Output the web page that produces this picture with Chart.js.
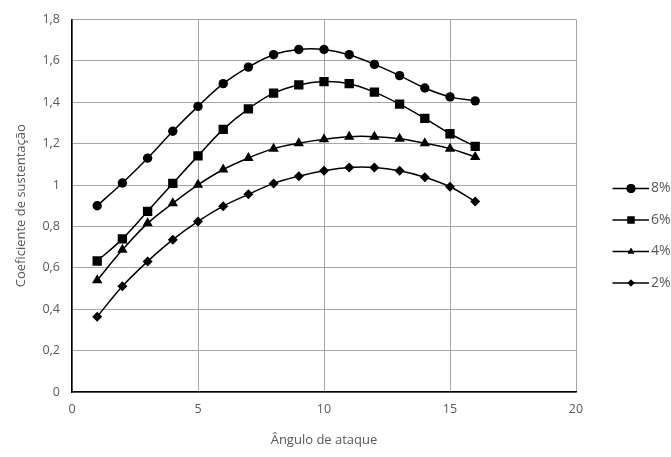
<!DOCTYPE html>
<html>
<head>
<meta charset="utf-8">
<script src="https://cdn.jsdelivr.net/npm/chart.js@4.4.1/dist/chart.umd.min.js"></script>
<style>
  html, body { margin: 0; padding: 0; background: #fff; }
  #wrap { width: 671px; height: 457px; position: relative; }
</style>
</head>
<body>
<div id="wrap"><canvas id="chart" width="671" height="457"></canvas></div>
<script>
// Angle of attack (x values)
var angles = [1, 2, 3, 4, 5, 6, 7, 8, 9, 10, 11, 12, 13, 14, 15, 16];

// Lift coefficient per camber
var cl8 = [0.90, 1.01, 1.13, 1.26, 1.38, 1.49, 1.57, 1.63, 1.655, 1.655, 1.63, 1.583, 1.529, 1.469, 1.426, 1.407];
var cl6 = [0.633, 0.740, 0.873, 1.008, 1.141, 1.269, 1.368, 1.444, 1.484, 1.500, 1.490, 1.449, 1.391, 1.322, 1.248, 1.187];
var cl4 = [0.540, 0.687, 0.815, 0.912, 1.001, 1.075, 1.131, 1.176, 1.202, 1.221, 1.234, 1.234, 1.224, 1.202, 1.176, 1.136];
var cl2 = [0.364, 0.511, 0.631, 0.736, 0.824, 0.898, 0.955, 1.008, 1.043, 1.069, 1.085, 1.085, 1.069, 1.038, 0.992, 0.921];

var seriesLabels = ['8%', '6%', '4%', '2%'];

var grey = '#595959';
var fontFamily = "'Open Sans', 'Noto Sans', sans-serif";

// Turn an array of y values into {x, y} points
function toPoints(values) {
    let pts = [];
    for (let i = 0; i < values.length; i++) {
        pts.push({ x: angles[i], y: values[i] });
    }
    return pts;
}

function makeSet(label, values, style, radius, legendRadius) {
    return {
        label: label,
        data: toPoints(values),
        borderColor: '#000',
        backgroundColor: '#000',
        borderWidth: 1.5,
        pointStyle: style,
        pointRadius: radius,
        pointBorderWidth: 0,
        pointBackgroundColor: '#000',
        tension: 0.4,
        legendRadius: legendRadius
    };
}

// Legend drawn on the right: short line with marker through it, then label
var sideLegend = {
    id: 'sideLegend',
    afterDraw: function(chart) {
        let ctx = chart.ctx;
        let sets = chart.data.datasets;
        ctx.save();
        for (let i = 0; i < sets.length; i++) {
            let y = 188.5 + i * 31.5;
            ctx.strokeStyle = '#000';
            ctx.lineWidth = 1.5;
            ctx.beginPath();
            ctx.moveTo(612.5, y);
            ctx.lineTo(649, y);
            ctx.stroke();
            ctx.fillStyle = '#000';
            Chart.helpers.drawPoint(ctx, {
                pointStyle: sets[i].pointStyle,
                radius: sets[i].legendRadius,
                rotation: 0,
                borderWidth: 0
            }, 631, y);
            ctx.fill();
            ctx.fillStyle = grey;
            ctx.font = '14px ' + fontFamily;
            ctx.textBaseline = 'middle';
            ctx.textAlign = 'left';
            ctx.fillText(sets[i].label, 651, y);
        }
        ctx.restore();
    }
};

var chart = new Chart(document.getElementById('chart'), {
    type: 'line',
    data: {
        datasets: [
            makeSet(seriesLabels[0], cl8, 'circle', 4.7, 4.5),
            makeSet(seriesLabels[1], cl6, 'rect', 6.6, 5),
            makeSet(seriesLabels[2], cl4, 'triangle', 6, 3.8),
            makeSet(seriesLabels[3], cl2, 'rectRot', 5, 3.5)
        ]
    },
    options: {
        responsive: false,
        animation: false,
        layout: { padding: { left: 0, right: 95, top: 17, bottom: 0 } },
        plugins: {
            legend: { display: false },
            tooltip: { enabled: false }
        },
        scales: {
            x: {
                type: 'linear',
                min: 0,
                max: 20,
                ticks: {
                    stepSize: 5,
                    color: grey,
                    padding: 10,
                    font: { family: fontFamily, size: 12.5 }
                },
                grid: { color: '#a6a6a6', lineWidth: 1, drawTicks: false },
                border: { color: '#000', width: 1.5 },
                title: {
                    display: true,
                    text: 'Ângulo de ataque',
                    color: grey,
                    font: { family: fontFamily, size: 13 },
                    padding: { top: 0, bottom: 9 }
                },
                afterFit: function(scale) { scale.height = 65; }
            },
            y: {
                min: 0,
                max: 1.8,
                ticks: {
                    stepSize: 0.2,
                    color: grey,
                    padding: 12,
                    font: { family: fontFamily, size: 12.5 },
                    callback: function(v) {
                        return String(Math.round(v * 10) / 10).replace('.', ',');
                    }
                },
                grid: { color: '#a6a6a6', lineWidth: 1, drawTicks: false },
                border: { color: '#000', width: 1.5 },
                title: {
                    display: true,
                    text: 'Coeficiente de sustentação',
                    color: grey,
                    font: { family: fontFamily, size: 13 },
                    padding: { top: 13, bottom: 0 }
                },
                afterFit: function(scale) { scale.width = 72; }
            }
        }
    },
    plugins: [sideLegend]
});
</script>
</body>
</html>
